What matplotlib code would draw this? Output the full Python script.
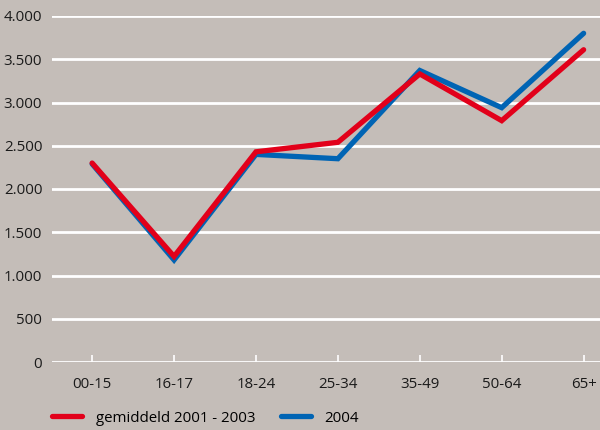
import matplotlib
matplotlib.use("Agg")
import matplotlib.pyplot as plt
from matplotlib.ticker import FuncFormatter

categories = ["00-15", "16-17", "18-24", "25-34", "35-49", "50-64", "65+"]
avg_2001_2003 = [2300, 1220, 2430, 2540, 3330, 2790, 3610]
year_2004 = [2290, 1180, 2400, 2350, 3370, 2940, 3800]
yticks = [0, 500, 1000, 1500, 2000, 2500, 3000, 3500, 4000]

bg = "#c4bdb8"
red = "#e2001a"
blue = "#0064b4"

plt.rcParams["font.family"] = ["Open Sans", "DejaVu Sans"]
plt.rcParams["font.size"] = 10.8

fig = plt.figure(figsize=(6, 4.3), dpi=100, facecolor=bg)
ax = fig.add_axes([52/600, 68/430, 548/600, 346/430])
ax.set_facecolor(bg)

x = list(range(len(categories)))
ax.plot(x, year_2004, color=blue, lw=3.8, solid_capstyle="round",
        solid_joinstyle="miter", label="2004", clip_on=False, zorder=3)
ax.plot(x, avg_2001_2003, color=red, lw=3.8, solid_capstyle="round",
        solid_joinstyle="miter", label="gemiddeld 2001 - 2003", clip_on=False, zorder=4)

ax.set_xlim(-0.49, 6.2)
ax.set_ylim(0, 4000)
ax.set_yticks(yticks)
ax.yaxis.set_major_formatter(FuncFormatter(lambda v, p: f"{int(v):,}".replace(",", ".")))
ax.set_xticks(x)
ax.set_xticklabels(categories)
ax.grid(axis="y", color="white", lw=2)
ax.set_axisbelow(True)
for s in ax.spines.values():
    s.set_visible(False)
ax.tick_params(axis="y", length=0, pad=7, labelcolor="#1a1a1a")
ax.tick_params(axis="x", direction="in", length=5, width=1.2, color="white",
               pad=11, labelcolor="#1a1a1a")

h, l = ax.get_legend_handles_labels()
fig.legend(h[::-1], l[::-1], loc="center left", bbox_to_anchor=(52/600, 12/430),
           ncol=2, frameon=False, handlelength=2.0, handletextpad=0.92,
           columnspacing=1.7, borderpad=0, borderaxespad=0)

fig.savefig("out.png", dpi=100, facecolor=bg)
